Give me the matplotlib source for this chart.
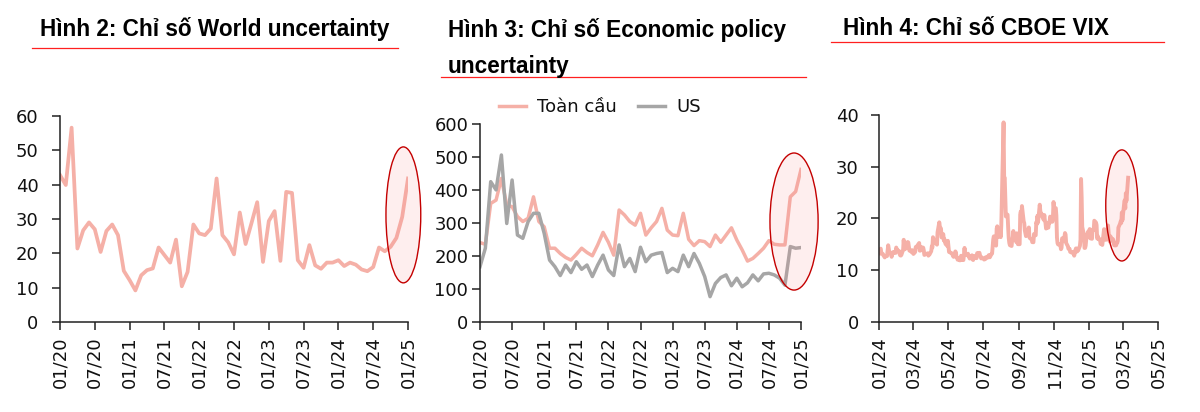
import matplotlib
matplotlib.use("Agg")
import matplotlib.pyplot as plt
import matplotlib.dates as mdates
from matplotlib.patches import Ellipse
from matplotlib.lines import Line2D
import pandas as pd

# ---------------- DATA ----------------
month_ticks = ["01/20", "07/20", "01/21", "07/21", "01/22", "07/22",
               "01/23", "07/23", "01/24", "07/24", "01/25"]

world_uncertainty = [42.8, 39.9, 56.6, 21.4, 26.7, 29.0, 27.0, 20.4, 26.5, 28.4,
                     25.3, 14.9, 12.2, 9.2, 13.6, 15.1, 15.6, 21.7, 19.5, 17.3,
                     24.0, 10.4, 14.6, 28.4, 25.8, 25.3, 27.2, 41.8, 25.3, 23.2,
                     19.7, 31.9, 22.7, 28.7, 34.9, 17.5, 29.4, 32.3, 17.8, 37.9,
                     37.6, 18.0, 15.8, 22.4, 16.5, 15.5, 17.3, 17.3, 18.0, 16.3,
                     17.3, 16.7, 15.3, 14.8, 16.0, 21.7, 20.6, 21.9, 24.5, 30.6,
                     41.8]

epu_global = [240, 235, 359, 369, 435, 354, 349, 319, 304, 314,
              379, 304, 288, 223, 223, 207, 195, 187, 204, 223,
              210, 200, 233, 271, 241, 202, 339, 324, 304, 293,
              329, 263, 285, 304, 344, 278, 263, 261, 329, 250,
              231, 246, 243, 228, 263, 241, 263, 285, 248, 218,
              184, 192, 207, 223, 246, 235, 233, 233, 379, 395,
              462]

epu_us = [167, 223, 425, 400, 506, 298, 430, 263, 253, 304,
          329, 329, 268, 187, 167, 140, 172, 149, 182, 159,
          172, 137, 172, 202, 157, 140, 233, 167, 192, 152,
          226, 182, 202, 207, 210, 149, 162, 152, 202, 167,
          207, 177, 137, 76, 116, 134, 142, 109, 132, 106,
          118, 142, 124, 145, 147, 142, 132, 111, 228, 223,
          225]

series_labels = ["Toàn cầu", "US"]

vix_start = "2024-01-02"
vix = [
    # Jan 2024
    13.20, 14.04, 14.13, 13.35, 13.08, 12.76, 12.69, 12.44, 12.70, 12.70, 13.84,
    14.79, 14.13, 13.30, 13.19, 12.55, 13.14, 13.45, 13.26, 13.60, 13.31, 14.35,
    # Feb 2024
    13.88, 13.85, 13.67, 13.06, 12.83, 12.79, 12.93, 13.93, 15.85, 14.38, 14.01,
    14.24, 14.24, 15.42, 15.34, 14.54, 13.75, 13.74, 13.43, 13.84, 13.40,
    # Mar 2024
    13.11, 13.49, 14.46, 14.50, 14.44, 14.74, 15.23, 13.75, 13.75, 14.40, 14.41,
    14.33, 13.82, 12.92, 13.06, 13.06, 13.19, 13.24, 12.78, 13.01, 13.01,
    # Apr 2024
    13.65, 14.61, 14.33, 16.35, 16.03, 15.19, 15.20, 15.80, 14.91, 17.31, 19.23,
    18.40, 18.21, 18.00, 16.30, 16.94, 15.69, 15.97, 15.37, 15.03, 14.67, 15.65,
    # May 2024
    14.60, 13.49, 13.49, 13.23, 13.23, 13.00, 12.69, 12.55, 13.60, 13.42, 12.45,
    12.42, 11.99, 12.15, 11.86, 12.29, 12.77, 11.93, 11.93, 12.92, 14.28, 12.91, 12.92,
    # Jun 2024
    13.11, 13.16, 12.63, 12.58, 12.22, 12.74, 12.85, 12.04, 11.94, 12.66,
    12.75, 12.30, 12.30, 13.28, 13.20, 13.33, 12.84, 12.55, 12.24, 12.44,
    # Jul 2024
    12.22, 12.03, 12.09, 12.09, 12.48, 12.37, 12.51, 12.85, 12.91, 12.46, 13.12,
    13.19, 14.48, 15.93, 16.52, 14.91, 14.72, 18.04, 18.46, 16.39, 16.60, 17.69, 16.36,
    # Aug 2024
    18.59, 23.39, 38.57, 27.71, 27.85, 23.79, 20.37, 20.71, 18.12, 16.19, 15.23,
    14.80, 14.65, 15.88, 16.27, 17.55, 15.86, 16.15, 15.43, 17.11, 15.65, 15.00,
    # Sep 2024
    15.00, 20.72, 21.32, 19.90, 22.38, 19.45, 19.08, 17.69, 17.07, 16.56, 17.14,
    17.61, 18.23, 16.33, 16.15, 15.89, 15.39, 15.41, 15.37, 16.96, 16.73,
    # Oct 2024
    19.26, 18.90, 20.49, 19.21, 22.64, 21.42, 20.86, 20.93, 20.46, 19.70, 20.64,
    19.58, 19.11, 18.03, 18.37, 18.20, 19.24, 19.08, 20.33, 19.80, 19.34, 20.35, 23.16,
    # Nov 2024
    21.88, 21.98, 20.49, 16.27, 15.20, 14.94, 14.97, 14.71, 14.02, 14.31, 16.14,
    15.58, 16.35, 17.16, 16.87, 15.24, 14.60, 14.10, 14.10, 14.10, 13.51,
    # Dec 2024
    13.34, 13.30, 13.45, 13.54, 12.77, 14.18, 14.18, 13.58, 13.92, 13.81, 14.69,
    15.87, 27.62, 24.09, 18.36, 16.78, 14.27, 14.27, 14.73, 15.95, 17.40, 17.35,
    # Jan 2025
    17.35, 17.93, 16.13, 16.04, 17.82, 17.70, 17.70, 19.54, 19.19, 18.71, 16.12,
    16.60, 15.97, 15.97, 15.06, 15.10, 15.02, 14.85, 17.90, 16.41, 16.56, 15.84, 16.43,
    # Feb 2025
    18.62, 17.21, 15.77, 15.50, 16.54, 15.81, 16.02, 15.89, 15.10, 14.77,
    14.77, 15.35, 15.27, 15.66, 18.21, 18.98, 19.43, 19.10, 21.13, 19.63,
    # Mar 2025
    22.78, 23.51, 21.93, 24.87, 23.37, 27.86,
]

titles = ["Hình 2: Chỉ số World uncertainty",
          "Hình 3: Chỉ số Economic policy\nuncertainty",
          "Hình 4: Chỉ số CBOE VIX"]

# ---------------- STYLE ----------------
PINK = "#F5B0A7"
GRAY = "#A6A6A6"
RED_LINE = "#FF2020"
ELL_EDGE = "#C40000"
ELL_FACE = (0.98, 0.55, 0.55, 0.14)
TICK_FONT = "DejaVu Sans"
TFS = 13

W, H = 1200, 412
fig = plt.figure(figsize=(W / 100, H / 100), dpi=100)


def fx(px):
    return px / W


def fy(py):
    return 1 - py / H


def style_axes(ax, ypad):
    for s in ["top", "right"]:
        ax.spines[s].set_visible(False)
    for s in ["left", "bottom"]:
        ax.spines[s].set_linewidth(1.1)
        ax.spines[s].set_color("#222222")
    ax.tick_params(axis="both", direction="out", length=5.5, width=1.1,
                   color="#222222", labelsize=TFS, labelcolor="#111111")
    ax.tick_params(axis="y", pad=ypad)
    ax.tick_params(axis="x", pad=5, labelrotation=90)
    for lab in ax.get_xticklabels() + ax.get_yticklabels():
        lab.set_fontfamily(TICK_FONT)


# ---- Chart 1 ----
ax1 = fig.add_axes([fx(60), fy(322), fx(408 - 60), fy(116) - fy(322)])
x1 = list(range(len(world_uncertainty)))
ax1.plot(x1, world_uncertainty, color=PINK, lw=2.7, solid_joinstyle="round")
ax1.set_xlim(0, len(world_uncertainty) - 1)
ax1.set_ylim(0, 60)
ax1.set_yticks([0, 10, 20, 30, 40, 50, 60])
ax1.set_xticks(list(range(0, len(world_uncertainty), 6)))
ax1.set_xticklabels(month_ticks)
style_axes(ax1, 10)
ax1.add_patch(Ellipse((59.2, 31.2), 6.0, 39.6, facecolor=ELL_FACE,
                      edgecolor=ELL_EDGE, lw=1.0, clip_on=False, zorder=5))

# ---- Chart 2 ----
ax2 = fig.add_axes([fx(480), fy(321.7), fx(801 - 480), fy(124) - fy(321.7)])
x2 = list(range(len(epu_global)))
ax2.plot(x2, epu_global, color=PINK, lw=2.5, label=series_labels[0], solid_joinstyle="round")
ax2.plot(x2, epu_us, color=GRAY, lw=2.5, label=series_labels[1], solid_joinstyle="round")
ax2.set_xlim(0, len(epu_global) - 1)
ax2.set_ylim(0, 600)
ax2.set_yticks([0, 100, 200, 300, 400, 500, 600])
ax2.set_xticks(list(range(0, len(epu_global), 6)))
ax2.set_xticklabels(month_ticks)
style_axes(ax2, 3)
ax2.add_patch(Ellipse((58.7, 304), 9.0, 416, facecolor=ELL_FACE,
                      edgecolor=ELL_EDGE, lw=1.0, clip_on=False, zorder=5))
leg = ax2.legend(loc="center", bbox_to_anchor=(fx(600), fy(107)),
                 bbox_transform=fig.transFigure, ncol=2, frameon=False,
                 handlelength=1.5, handletextpad=0.6, columnspacing=1.2,
                 prop={"family": TICK_FONT, "size": TFS}, borderpad=0.2)
for t in leg.get_texts():
    t.set_color("#111111")

# ---- Chart 3 ----
ax3 = fig.add_axes([fx(879), fy(321.7), fx(1158 - 879), fy(115) - fy(321.7)])
vix_dates = pd.bdate_range(vix_start, periods=len(vix))
ax3.plot(vix_dates, vix, color=PINK, lw=2.8, solid_joinstyle="round")
ax3.set_xlim(pd.Timestamp("2024-01-01"), pd.Timestamp("2025-05-01"))
ax3.set_ylim(0, 40)
ax3.set_yticks([0, 10, 20, 30, 40])
ax3.xaxis.set_major_locator(mdates.MonthLocator(bymonth=[1, 3, 5, 7, 9, 11]))
ax3.xaxis.set_major_formatter(mdates.DateFormatter("%m/%y"))
style_axes(ax3, 9)
ell_c = mdates.date2num(pd.Timestamp("2025-02-27"))
ax3.add_patch(Ellipse((ell_c, 22.5), 56, 21.5, facecolor=ELL_FACE,
                      edgecolor=ELL_EDGE, lw=1.0, clip_on=False, zorder=5))

# ---- Titles and red rules ----
tkw = dict(fontfamily="Liberation Sans", fontweight="bold", fontsize=16.3,
           color="#000000", va="baseline", ha="left")
fig.text(fx(40), fy(36), titles[0], **tkw)
t2a, t2b = titles[1].split("\n")
fig.text(fx(448), fy(37.3), t2a, **tkw)
fig.text(fx(448), fy(72.7), t2b, **tkw)
fig.text(fx(843), fy(34.7), titles[2], **tkw)

for (x0, x1_, yy) in [(32, 398, 48), (441, 806, 77), (831, 1164, 42)]:
    fig.add_artist(Line2D([fx(x0), fx(x1_)], [fy(yy), fy(yy)],
                          transform=fig.transFigure, color=RED_LINE, lw=0.9))

fig.savefig("out.png", dpi=100)
